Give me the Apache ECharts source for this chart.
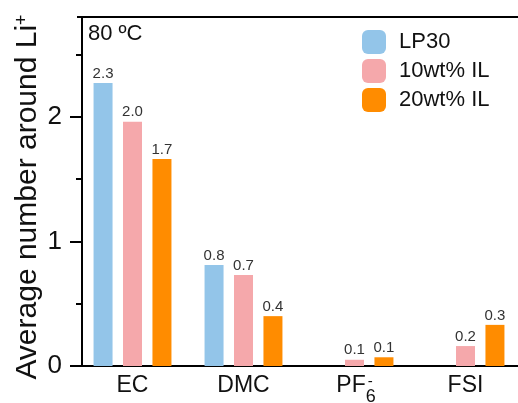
<!DOCTYPE html>
<html>
<head>
<meta charset="utf-8">
<script src="https://cdn.jsdelivr.net/npm/echarts@6/dist/echarts.min.js"></script>
<style>
  html, body { margin: 0; padding: 0; background: #fff; }
  #chart { width: 518px; height: 403px; }
</style>
</head>
<body>
<div id="chart"></div>
<script>
// Coordination species around Li+ at 80 °C
const categories = ['EC', 'DMC', 'PF6', 'FSI'];
const seriesNames = ['LP30', '10wt% IL', '20wt% IL'];
const lp30 = [2.27, 0.81, 0, 0];
const il10 = [1.96, 0.73, 0.05, 0.16];
const il20 = [1.66, 0.40, 0.07, 0.33];
const yTicks = [0, 1, 2];
const yMinorTicks = [0.5, 1.5, 2.5];
const yMax = 2.8;

const colors = ['#93C5E9', '#F5A8AB', '#FF8C00'];
const FONT = 'Liberation Sans, Arial, sans-serif';

function fmt(v) {
  return (Math.round(v * 10) / 10).toFixed(1);
}

const chart = echarts.init(document.getElementById('chart'), null, { renderer: 'canvas' });

const seriesData = [lp30, il10, il20];

const option = {
  animation: false,
  textStyle: { fontFamily: FONT },
  title: {
    text: '80 ºC',
    left: 88,
    top: 23,
    padding: 0,
    textStyle: { fontFamily: FONT, fontSize: 22, fontWeight: 'normal', color: '#111' }
  },
  legend: {
    data: seriesNames,
    orient: 'vertical',
    left: 362,
    top: 30,
    padding: 0,
    itemWidth: 24,
    itemHeight: 24,
    itemGap: 5,
    icon: 'roundRect',
    textStyle: { fontFamily: FONT, fontSize: 22, color: '#111', padding: [0, 0, 0, 8] }
  },
  grid: [
    // plotting band for the bars
    { left: 77, width: 444, top: 17, bottom: 37, outerBoundsMode: 'none' },
    // value axis
    { left: 82, width: 450, top: 17, bottom: 37 }
  ],
  xAxis: [
    {
      type: 'category',
      gridIndex: 0,
      data: categories,
      axisLine: { lineStyle: { color: '#000', width: 2 } },
      axisTick: { show: false },
      axisLabel: {
        interval: 0,
        margin: 8,
        fontSize: 23,
        color: '#111',
        fontFamily: FONT,
        formatter: function (v) {
          if (v === 'PF6') return '{m|PF}{sub|6}{sup|-}';
          return '{m|' + v + '}';
        },
        rich: {
          m: { fontSize: 23, fontFamily: FONT, color: '#111', verticalAlign: 'top', lineHeight: 26 },
          sup: { fontSize: 15, fontFamily: FONT, color: '#111', verticalAlign: 'top', lineHeight: 8, padding: [0, 0, 0, -8] },
          sub: { fontSize: 18, fontFamily: FONT, color: '#111', verticalAlign: 'top', padding: [14, 0, 0, 0], lineHeight: 20 }
        }
      }
    },
    {
      type: 'category',
      gridIndex: 1,
      data: categories,
      show: false
    }
  ],
  yAxis: [
    {
      type: 'value',
      gridIndex: 0,
      min: 0,
      max: yMax,
      show: false
    },
    {
      type: 'value',
      gridIndex: 1,
      min: 0,
      max: yMax,
      interval: 1,
      name: 'Average number around Li{sup|+}',
      nameLocation: 'middle',
      nameGap: 39,
      nameMoveOverlap: false,
      nameTextStyle: {
        fontSize: 30,
        fontFamily: FONT,
        color: '#111',
        padding: [0, 11, 0, 0],
        rich: {
          sup: { fontSize: 18, fontFamily: FONT, color: '#111', verticalAlign: 'top' }
        }
      },
      axisLine: { show: true, onZero: false, lineStyle: { color: '#000', width: 2 } },
      axisTick: { show: true, length: 12, customValues: yTicks, lineStyle: { color: '#000', width: 2 } },
      axisLabel: { customValues: yTicks, margin: 20, fontSize: 26, color: '#111', fontFamily: FONT },
      splitLine: { show: false }
    },
    {
      // minor ticks at the half units
      type: 'value',
      gridIndex: 1,
      min: 0,
      max: yMax,
      position: 'left',
      axisLine: { show: false },
      axisTick: { show: true, length: 6, customValues: yMinorTicks, lineStyle: { color: '#000', width: 2 } },
      axisLabel: { show: false },
      splitLine: { show: false }
    }
  ],
  series: seriesNames.map(function (name, i) {
    const s = {
      name: name,
      type: 'bar',
      xAxisIndex: 0,
      yAxisIndex: 0,
      clip: false,
      data: seriesData[i],
      barWidth: 19,
      barGap: '55%',
      itemStyle: { color: colors[i] },
      label: {
        show: true,
        position: 'top',
        distance: 2,
        fontSize: 15,
        fontFamily: FONT,
        color: '#333',
        formatter: function (p) { return p.value > 0 ? fmt(p.value) : ''; }
      }
    };
    if (i === 0) {
      // top edge of the frame
      s.markLine = {
        silent: true,
        symbol: ['none', 'none'],
        label: { show: false },
        lineStyle: { color: '#000', width: 2, type: 'solid' },
        emphasis: { disabled: true },
        data: [{ yAxis: yMax }]
      };
    }
    return s;
  })
};

chart.setOption(option);
</script>
</body>
</html>
